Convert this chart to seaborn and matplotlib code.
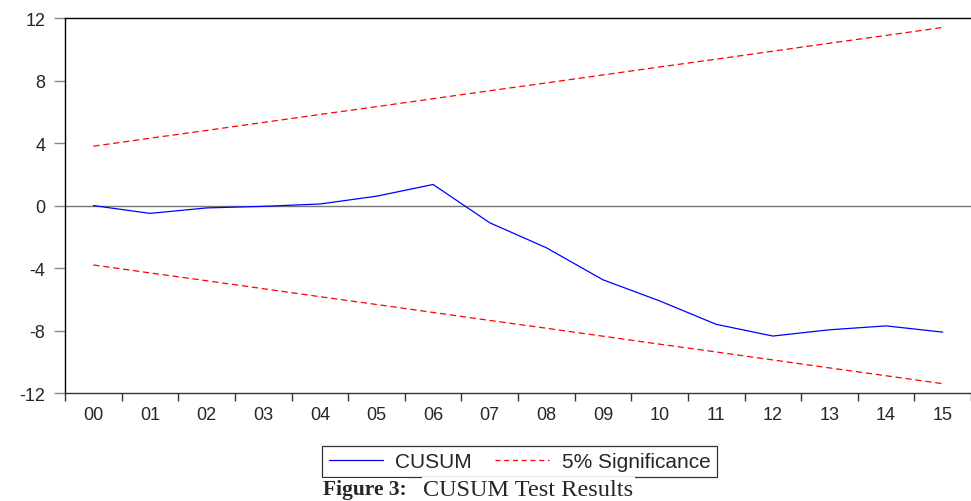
import matplotlib
matplotlib.use("Agg")
import matplotlib.pyplot as plt
from matplotlib.lines import Line2D
import seaborn as sns
import pandas as pd

periods = ["00", "01", "02", "03", "04", "05", "06", "07",
           "08", "09", "10", "11", "12", "13", "14", "15"]
cusum = [0.0, -0.5, -0.15, -0.05, 0.1, 0.6, 1.35, -1.1,
         -2.7, -4.75, -6.1, -7.6, -8.35, -7.95, -7.7, -8.1]
upper_5pct = [3.8, 4.31, 4.81, 5.32, 5.83, 6.33, 6.84, 7.35,
              7.85, 8.36, 8.87, 9.37, 9.88, 10.39, 10.89, 11.4]
lower_5pct = [-3.8, -4.31, -4.81, -5.32, -5.83, -6.33, -6.84, -7.35,
              -7.85, -8.36, -8.87, -9.37, -9.88, -10.39, -10.89, -11.4]
y_ticks = [-12, -8, -4, 0, 4, 8, 12]

sns.set_theme(style="ticks")
plt.rcParams['font.family'] = ['Liberation Sans', 'DejaVu Sans']

df = pd.DataFrame({"period": periods, "cusum": cusum,
                   "upper": upper_5pct, "lower": lower_5pct})

fig = plt.figure(figsize=(9.71, 5.02), dpi=100)
ax = fig.add_axes([0.067, 0.215, 0.933, 0.747])

ax.axhline(0, color="#777777", lw=1.0, zorder=1)
sns.lineplot(ax=ax, data=df, x="period", y="cusum", color="#0000ff", lw=0.9, sort=False)
sns.lineplot(ax=ax, data=df, x="period", y="upper", color="#ff0000", lw=0.9,
             linestyle=(0, (5, 3)), sort=False)
sns.lineplot(ax=ax, data=df, x="period", y="lower", color="#ff0000", lw=0.9,
             linestyle=(0, (5, 3)), sort=False)

ax.set_xlim(-0.5, len(periods) - 0.5)
ax.set_ylim(-12, 12)
ax.set_xlabel("")
ax.set_ylabel("")

# labels at category centres, tick marks at the boundaries
ax.set_xticks(range(len(periods)))
ax.set_xticklabels(periods, fontsize=13)
ax.set_xticks([i - 0.5 for i in range(len(periods) + 1)], minor=True)
ax.tick_params(axis="x", which="major", bottom=True, length=0, pad=9)
ax.tick_params(axis="x", which="minor", bottom=True, length=6, width=1.0,
               color="#333333", direction="out")

ax.set_yticks(y_ticks)
ax.set_yticklabels([str(v) for v in y_ticks], fontsize=13)
ax.tick_params(axis="y", which="major", left=True, length=8, width=1.0,
               color="#888888", direction="out", pad=6)
ax.tick_params(axis="y", which="minor", left=False)

for side in ["left", "top", "bottom"]:
    ax.spines[side].set_visible(True)
    ax.spines[side].set_color("black")
    ax.spines[side].set_linewidth(1.0)
ax.spines["bottom"].set_color("#333333")
ax.spines["right"].set_visible(False)

handles = [Line2D([], [], color="#0000ff", lw=0.9),
           Line2D([], [], color="#ff0000", lw=0.9, linestyle=(0, (4, 3)))]
leg = fig.legend(handles, ["CUSUM", "5% Significance"], loc="upper center",
                 bbox_to_anchor=(0.535, 0.11), ncol=2, fontsize=15,
                 frameon=True, fancybox=False, handlelength=2.6, columnspacing=1.1,
                 borderpad=0.3, handletextpad=0.6, borderaxespad=0)
leg.get_frame().set_edgecolor("black")
leg.get_frame().set_linewidth(0.9)
leg.set_zorder(3)

fig.text(0.333, 0.023, "Figure 3:", family=["Liberation Serif"], fontweight="bold",
         fontsize=15.5, ha="left", va="center", zorder=6,
         bbox=dict(facecolor="white", edgecolor="none", pad=1))
fig.text(0.436, 0.023, "CUSUM Test Results", family=["Liberation Serif"],
         fontsize=17.5, ha="left", va="center", zorder=6,
         bbox=dict(facecolor="white", edgecolor="none", pad=1))

fig.savefig("out.png", dpi=100)
